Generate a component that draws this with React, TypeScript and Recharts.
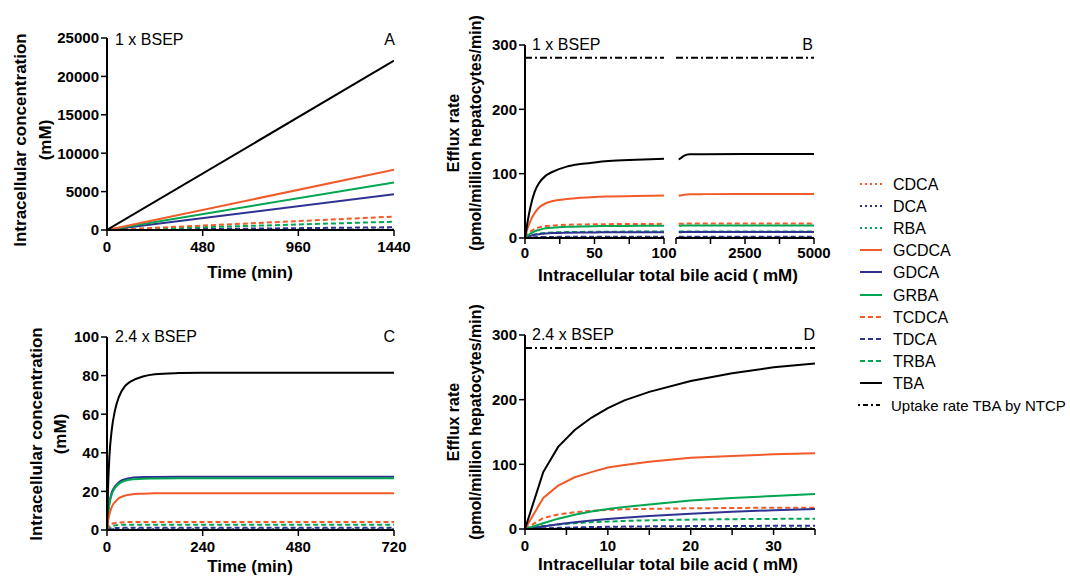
import React from 'react';
import { LineChart, Line, XAxis, YAxis, ReferenceLine } from 'recharts';

const FONT = '"Liberation Sans", Arial, Helvetica, sans-serif';
const ORANGE = '#f15a29';
const BLUE = '#2e3192';
const GREEN = '#00a651';

const bileAcids = ['CDCA', 'DCA', 'RBA', 'GCDCA', 'GDCA', 'GRBA', 'TCDCA', 'TDCA', 'TRBA', 'TBA'];
const uptakeLabel = 'Uptake rate TBA by NTCP';
const uptakeRate = 280;

// A: 1 x BSEP, concentration vs time
const timeA = [0, 1440];
const concA: Record<string, number[]> = {
  CDCA: [0, 40], DCA: [0, 20], RBA: [0, 30],
  GCDCA: [0, 7850], GDCA: [0, 4650], GRBA: [0, 6200],
  TCDCA: [0, 1750], TDCA: [0, 360], TRBA: [0, 1080],
  TBA: [0, 22050],
};

// B: 1 x BSEP, efflux vs intracellular TBA (broken axis)
const tbaB1 = [0, 2, 4, 7, 10, 15, 20, 30, 40, 50, 60, 80, 100];
const effluxB1: Record<string, number[]> = {
  CDCA: [0, 0.1, 0.2, 0.2, 0.3, 0.3, 0.3, 0.4, 0.4, 0.4, 0.4, 0.4, 0.4],
  DCA: [0, 0.1, 0.1, 0.1, 0.2, 0.2, 0.2, 0.2, 0.2, 0.2, 0.2, 0.2, 0.2],
  RBA: [0, 0.1, 0.1, 0.2, 0.2, 0.3, 0.3, 0.3, 0.3, 0.3, 0.3, 0.3, 0.3],
  GCDCA: [0, 16, 27, 39, 47, 54, 57.5, 60.5, 62.5, 63.8, 64.5, 65.3, 66],
  GDCA: [0, 2, 3.5, 5, 6, 7, 7.6, 8.2, 8.5, 8.7, 8.8, 9, 9],
  GRBA: [0, 4, 7, 10.5, 12.5, 15, 16, 17.3, 18, 18.4, 18.6, 18.9, 19],
  TCDCA: [0, 6, 10, 14, 16.5, 18.5, 19.5, 20.5, 21, 21.3, 21.5, 21.8, 22],
  TDCA: [0, 0.5, 0.9, 1.2, 1.4, 1.6, 1.7, 1.8, 1.9, 1.9, 2, 2, 2],
  TRBA: [0, 2.5, 4, 5.5, 6.8, 8, 8.6, 9.2, 9.5, 9.7, 9.8, 10, 10],
  TBA: [0, 27, 49, 72, 85, 97, 103, 111, 115, 117.5, 119.5, 121.5, 123],
};
const tbaB2 = [100, 200, 300, 500, 1000, 2500, 5000];
const effluxB2: Record<string, number[]> = {
  CDCA: [0.4, 0.4, 0.4, 0.4, 0.4, 0.4, 0.4],
  DCA: [0.2, 0.2, 0.2, 0.2, 0.2, 0.2, 0.2],
  RBA: [0.3, 0.3, 0.3, 0.3, 0.3, 0.3, 0.3],
  GCDCA: [65.5, 66.5, 67.3, 68, 68.2, 68.4, 68.5],
  GDCA: [9, 9.1, 9.2, 9.2, 9.3, 9.3, 9.3],
  GRBA: [19, 19.2, 19.4, 19.5, 19.6, 19.6, 19.6],
  TCDCA: [22, 22.2, 22.3, 22.4, 22.5, 22.5, 22.5],
  TDCA: [2, 2, 2, 2, 2, 2, 2],
  TRBA: [10, 10.1, 10.2, 10.2, 10.2, 10.2, 10.2],
  TBA: [122, 125, 128, 130, 130.3, 130.5, 130.5],
};

// C: 2.4 x BSEP, concentration vs time
const timeC = [0, 3, 6, 12, 20, 30, 45, 60, 90, 120, 180, 240, 480, 720];
const concC: Record<string, number[]> = {
  CDCA: [0, 0.1, 0.2, 0.3, 0.3, 0.4, 0.4, 0.4, 0.4, 0.4, 0.4, 0.4, 0.4, 0.4],
  DCA: [0, 0.1, 0.1, 0.2, 0.2, 0.2, 0.2, 0.2, 0.2, 0.2, 0.2, 0.2, 0.2, 0.2],
  RBA: [0, 0.1, 0.1, 0.2, 0.2, 0.3, 0.3, 0.3, 0.3, 0.3, 0.3, 0.3, 0.3, 0.3],
  GCDCA: [0, 5, 8, 12, 14.5, 16.5, 17.8, 18.4, 18.8, 19, 19.1, 19.1, 19.1, 19.1],
  GDCA: [0, 9, 14, 19.5, 22.5, 24.8, 26.3, 27, 27.4, 27.5, 27.6, 27.6, 27.6, 27.6],
  GRBA: [0, 9, 13.5, 18.5, 21.8, 24, 25.5, 26.2, 26.6, 26.7, 26.8, 26.8, 26.8, 26.8],
  TCDCA: [0, 1.6, 2.4, 3.2, 3.6, 3.9, 4.1, 4.2, 4.2, 4.2, 4.2, 4.2, 4.2, 4.2],
  TDCA: [0, 0.4, 0.7, 0.9, 1, 1.1, 1.2, 1.2, 1.2, 1.2, 1.2, 1.2, 1.2, 1.2],
  TRBA: [0, 1, 1.6, 2.1, 2.4, 2.6, 2.7, 2.7, 2.7, 2.7, 2.7, 2.7, 2.7, 2.7],
  TBA: [0, 24, 38, 52, 62, 69, 74.5, 77, 79.5, 80.7, 81.3, 81.5, 81.5, 81.5],
};

// D: 2.4 x BSEP, efflux vs intracellular TBA
const tbaD = [0, 2.2, 4, 6, 8, 10, 12, 15, 20, 25, 30, 35];
const effluxD: Record<string, number[]> = {
  CDCA: [0, 0.3, 0.4, 0.5, 0.6, 0.7, 0.7, 0.8, 0.8, 0.9, 0.9, 0.9],
  DCA: [0, 0.1, 0.2, 0.2, 0.3, 0.3, 0.3, 0.4, 0.4, 0.4, 0.4, 0.4],
  RBA: [0, 0.2, 0.3, 0.4, 0.4, 0.5, 0.5, 0.5, 0.6, 0.6, 0.6, 0.6],
  GCDCA: [0, 48, 67, 80, 88, 95, 99, 104, 110, 113, 115.5, 117],
  GDCA: [0, 4, 7.5, 10.5, 13, 15.5, 17.5, 20, 23.5, 26.5, 29, 31],
  GRBA: [0, 9, 16, 22, 27, 31, 34, 38, 44, 48, 51, 54],
  TCDCA: [0, 17, 22.5, 26, 28, 29.5, 30.5, 31.2, 32, 32.5, 33, 33],
  TDCA: [0, 1, 1.8, 2.5, 3, 3.4, 3.7, 4.1, 4.5, 4.7, 4.9, 5],
  TRBA: [0, 4.5, 7, 9, 10.5, 11.5, 12.5, 13.5, 14.5, 15.2, 15.6, 16],
  TBA: [0, 88, 127, 153, 172, 187, 199, 212, 229, 241, 250, 256],
};

const colorOf: Record<string, string> = {
  CDCA: ORANGE, DCA: BLUE, RBA: GREEN,
  GCDCA: ORANGE, GDCA: BLUE, GRBA: GREEN,
  TCDCA: ORANGE, TDCA: BLUE, TRBA: GREEN,
  TBA: '#000',
};
const dashOf: Record<string, string | undefined> = {
  CDCA: '2 3', DCA: '2 3', RBA: '2 3',
  TCDCA: '5 3', TDCA: '5 3', TRBA: '5 3',
};
const drawOrder = ['CDCA', 'DCA', 'RBA', 'TDCA', 'TRBA', 'TCDCA', 'GDCA', 'GRBA', 'GCDCA', 'TBA'];

const toRows = (xs: number[], ys: Record<string, number[]>) =>
  xs.map((x, i) => {
    const row: Record<string, number> = { x };
    bileAcids.forEach((k) => { row[k] = ys[k][i]; });
    return row;
  });

const tickStyle = { fill: '#000', fontSize: 15, fontWeight: 700, fontFamily: FONT };
const axisLine = { stroke: '#000', strokeWidth: 2 };
const tickLine = { stroke: '#000', strokeWidth: 1.5 };

type PanelProps = {
  left: number; top: number; width: number; height: number;
  margin: { top: number; right: number; bottom: number; left: number };
  yWidth: number;
  rows: Record<string, number>[];
  xDomain: [number, number]; xTicks: number[]; xLabels?: number[]; xGap?: number;
  yDomain: [number, number]; yTicks: number[];
  hideY?: boolean; curve: 'monotone' | 'linear'; uptake?: boolean;
};

function Panel(p: PanelProps) {
  return (
    <div style={{ position: 'absolute', left: p.left, top: p.top }}>
      <LineChart width={p.width} height={p.height} data={p.rows} margin={p.margin}>
        <XAxis
          type="number" dataKey="x" domain={p.xDomain} ticks={p.xTicks} interval={0}
          allowDataOverflow tick={tickStyle} axisLine={axisLine} tickLine={tickLine}
          tickSize={6} tickMargin={p.xGap ?? 5} height={30}
          tickFormatter={(v: number) => (!p.xLabels || p.xLabels.includes(v) ? String(v) : '')}
        />
        {p.hideY ? (
          <YAxis hide width={0} domain={p.yDomain} />
        ) : (
          <YAxis
            type="number" domain={p.yDomain} ticks={p.yTicks} interval={0} width={p.yWidth}
            tick={tickStyle} axisLine={axisLine} tickLine={tickLine} tickSize={6} tickMargin={2}
          />
        )}
        {p.uptake && (
          <ReferenceLine y={uptakeRate} stroke="#000" strokeWidth={2} strokeDasharray="7 3 2 3" />
        )}
        {drawOrder.map((k) => (
          <Line
            key={k} dataKey={k} type={p.curve} stroke={colorOf[k]} strokeWidth={2}
            strokeDasharray={dashOf[k]} dot={false} activeDot={false} isAnimationActive={false}
          />
        ))}
      </LineChart>
    </div>
  );
}

const legendY = [184, 206, 228, 250, 272, 295, 317, 339, 361, 383];

export default function App() {
  const title = { fontFamily: FONT, fontWeight: 700, fill: '#000' } as const;
  const plain = { fontFamily: FONT, fill: '#000' } as const;
  return (
    <div style={{ position: 'absolute', left: 0, top: 0, width: 1070, height: 577, overflow: 'hidden', background: '#fff' }}>
      <Panel left={0} top={0} width={420} height={290}
        margin={{ top: 38, right: 26, bottom: 30, left: 0 }} yWidth={107}
        rows={toRows(timeA, concA)} xDomain={[0, 1440]} xTicks={[0, 480, 960, 1440]}
        yDomain={[0, 25000]} yTicks={[0, 5000, 10000, 15000, 20000, 25000]} curve="linear" />
      <Panel left={420} top={0} width={280} height={290}
        margin={{ top: 45, right: 36, bottom: 22, left: 0 }} yWidth={105} xGap={3}
        rows={toRows(tbaB1, effluxB1)} xDomain={[0, 100]} xTicks={[0, 25, 50, 75, 100]} xLabels={[0, 50, 100]}
        yDomain={[0, 300]} yTicks={[0, 100, 200, 300]} curve="monotone" uptake />
      <Panel left={640} top={0} width={200} height={290}
        margin={{ top: 45, right: 26, bottom: 22, left: 36 }} yWidth={0} hideY xGap={3}
        rows={toRows(tbaB2, effluxB2)} xDomain={[0, 5000]} xTicks={[0, 1250, 2500, 3750, 5000]} xLabels={[2500, 5000]}
        yDomain={[0, 300]} yTicks={[0, 100, 200, 300]} curve="monotone" uptake />
      <Panel left={0} top={300} width={420} height={290}
        margin={{ top: 37, right: 26, bottom: 30, left: 0 }} yWidth={107}
        rows={toRows(timeC, concC)} xDomain={[0, 720]} xTicks={[0, 240, 480, 720]}
        yDomain={[0, 100]} yTicks={[0, 20, 40, 60, 80, 100]} curve="monotone" />
      <Panel left={420} top={300} width={420} height={290}
        margin={{ top: 35, right: 25, bottom: 31, left: 0 }} yWidth={105}
        rows={toRows(tbaD, effluxD)} xDomain={[0, 35]} xTicks={[0, 5, 10, 15, 20, 25, 30, 35]} xLabels={[0, 10, 20, 30]}
        yDomain={[0, 300]} yTicks={[0, 100, 200, 300]} curve="linear" uptake />

      <svg width={1070} height={577} style={{ position: 'absolute', left: 0, top: 0, pointerEvents: 'none' }}>
        {/* panel A */}
        <text x={115} y={45} fontSize={16} {...plain}>1 x BSEP</text>
        <text x={395} y={45} fontSize={16} textAnchor="end" {...plain}>A</text>
        <text transform="translate(20,140) rotate(-90)" textAnchor="middle" dominantBaseline="central" fontSize={17} {...title}>Intracellular concentration</text>
        <text transform="translate(45,140) rotate(-90)" textAnchor="middle" dominantBaseline="central" fontSize={17} {...title}>(mM)</text>
        <text x={250} y={278} textAnchor="middle" fontSize={17} {...title}>Time (min)</text>

        {/* panel B */}
        <text x={532} y={50} fontSize={16} {...plain}>1 x BSEP</text>
        <text x={813} y={50} fontSize={16} textAnchor="end" {...plain}>B</text>
        <text transform="translate(453,133) rotate(-90)" textAnchor="middle" dominantBaseline="central" fontSize={16} {...title}>Efflux rate</text>
        <text transform="translate(475,133) rotate(-90)" textAnchor="middle" dominantBaseline="central" fontSize={16} {...title}>(pmol/million hepatocytes/min)</text>
        <text x={668} y={281} textAnchor="middle" fontSize={17} {...title}>Intracellular total bile acid ( mM)</text>

        {/* panel C */}
        <text x={115} y={342} fontSize={16} {...plain}>2.4 x BSEP</text>
        <text x={395} y={342} fontSize={16} textAnchor="end" {...plain}>C</text>
        <text transform="translate(36,434) rotate(-90)" textAnchor="middle" dominantBaseline="central" fontSize={17} {...title}>Intracellular concentration</text>
        <text transform="translate(60,434) rotate(-90)" textAnchor="middle" dominantBaseline="central" fontSize={17} {...title}>(mM)</text>
        <text x={250} y={572} textAnchor="middle" fontSize={17} {...title}>Time (min)</text>

        {/* panel D */}
        <text x={532} y={340} fontSize={16} {...plain}>2.4 x BSEP</text>
        <text x={815} y={340} fontSize={16} textAnchor="end" {...plain}>D</text>
        <text transform="translate(453,422) rotate(-90)" textAnchor="middle" dominantBaseline="central" fontSize={16} {...title}>Efflux rate</text>
        <text transform="translate(475,422) rotate(-90)" textAnchor="middle" dominantBaseline="central" fontSize={16} {...title}>(pmol/million hepatocytes/min)</text>
        <text x={668} y={570} textAnchor="middle" fontSize={17} {...title}>Intracellular total bile acid ( mM)</text>

        {/* legend */}
        {bileAcids.map((k, i) => (
          <g key={k}>
            <line x1={860} x2={882} y1={legendY[i]} y2={legendY[i]} stroke={colorOf[k]} strokeWidth={2} strokeDasharray={dashOf[k]} />
            <text x={893} y={legendY[i]} dominantBaseline="central" fontSize={16} {...plain}>{k}</text>
          </g>
        ))}
        <line x1={858} x2={880} y1={405} y2={405} stroke="#000" strokeWidth={2} strokeDasharray="2 3 5 3" />
        <text x={891} y={405} dominantBaseline="central" fontSize={15} {...plain}>{uptakeLabel}</text>
      </svg>
    </div>
  );
}
